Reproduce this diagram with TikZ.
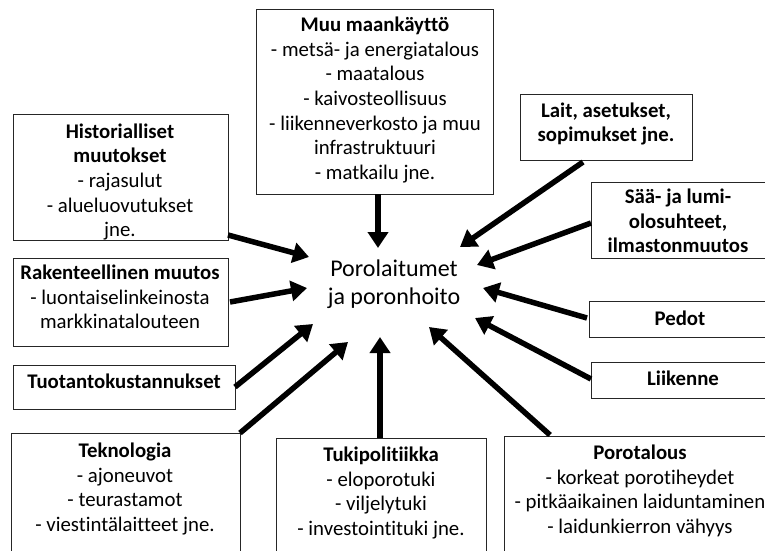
\documentclass[tikz,border=0pt]{standalone}
\usepackage{fontspec}
\setmainfont[Ligatures={NoCommon}]{Carlito}
\usetikzlibrary{arrows.meta}
\begin{document}
\begin{tikzpicture}[x=1pt,y=-1pt,
  boxframe/.style={draw=black!85,line width=0.9pt,fill=white},
  boxtext/.style={inner sep=0pt,align=center,font=\fontsize{20.8}{24.7}\selectfont},
  centertext/.style={inner sep=0pt,align=center,font=\fontsize{24}{28.5}\selectfont},
  bigarrow/.style={line width=5.5pt,-{Triangle[length=16pt,width=20pt]}}]
\useasboundingbox (0,0) rectangle (765,551);
\clip (0,0) rectangle (765,551);
% boxes
\draw[boxframe] (256,9) rectangle (493,194);
\draw[boxframe] (13,114) rectangle (228,240);
\draw[boxframe] (13,258) rectangle (228,346);
\draw[boxframe] (13,365) rectangle (235,409);
\draw[boxframe] (11,433) rectangle (240,560);
\draw[boxframe] (276,438) rectangle (486,560);
\draw[boxframe] (504,436) rectangle (780,560);
\draw[boxframe] (520,94) rectangle (692,160);
\draw[boxframe] (591,182) rectangle (780,258);
\draw[boxframe] (589,301) rectangle (780,337);
\draw[boxframe] (591,362) rectangle (780,398);
% texts
\node[boxtext] (muu) at (375,100) {\textbf{Muu maankäyttö}\\- metsä- ja energiatalous\\- maatalous\\- kaivosteollisuus\\- liikenneverkosto ja muu\\infrastruktuuri\\- matkailu jne.};
\node[boxtext] (hist) at (120,182) {\textbf{Historialliset}\\\textbf{muutokset}\\- rajasulut\\- alueluovutukset\\jne.};
\node[boxtext] (rak) at (120,297) {\textbf{Rakenteellinen muutos}\\- luontaiselinkeinosta\\markkinatalouteen};
\node[boxtext] (tuot) at (124,381) {\textbf{Tuotantokustannukset}};
\node[boxtext] (tekn) at (125,489) {\textbf{Teknologia}\\- ajoneuvot\\- teurastamot\\- viestintälaitteet jne.};
\node[boxtext] (tuki) at (381,493) {\textbf{Tukipolitiikka}\\- eloporotuki\\- viljelytuki\\- investointituki jne.};
\node[boxtext] (poro) at (640,491) {\textbf{Porotalous}\\- korkeat porotiheydet\\- pitkäaikainen laiduntaminen\\- laidunkierron vähyys};
\node[boxtext] (lait) at (606,124) {\textbf{Lait, asetukset,}\\\textbf{sopimukset jne.}};
\node[boxtext] (saa) at (678,221) {\textbf{Sää- ja lumi-}\\\textbf{olosuhteet,}\\\textbf{ilmastonmuutos}};
\node[boxtext] (pedot) at (680,318) {\textbf{Pedot}};
\node[boxtext] (liik) at (683,378) {\textbf{Liikenne}};
\node[centertext] (c) at (394,284) {Porolaitumet\\ja poronhoito};
% arrow ends
\coordinate (s1) at (378,194); \coordinate (e1) at (378,248);
\coordinate (s2) at (228,235); \coordinate (e2) at (309,257);
\coordinate (s3) at (230,302); \coordinate (e3) at (307,288);
\coordinate (s4) at (235,387); \coordinate (e4) at (313,324);
\coordinate (s5) at (240,433); \coordinate (e5) at (348,342);
\coordinate (s6) at (380,438); \coordinate (e6) at (380,337);
\coordinate (s7) at (550,435); \coordinate (e7) at (429,327);
\coordinate (s8) at (591,379); \coordinate (e8) at (475,318);
\coordinate (s9) at (587,318); \coordinate (e9) at (483,288);
\coordinate (s10) at (591,223); \coordinate (e10) at (477,265);
\coordinate (s11) at (583,162); \coordinate (e11) at (460,247);
\foreach \i in {1,...,11} {\draw[bigarrow] (s\i) -- (e\i);}
\end{tikzpicture}
\end{document}
